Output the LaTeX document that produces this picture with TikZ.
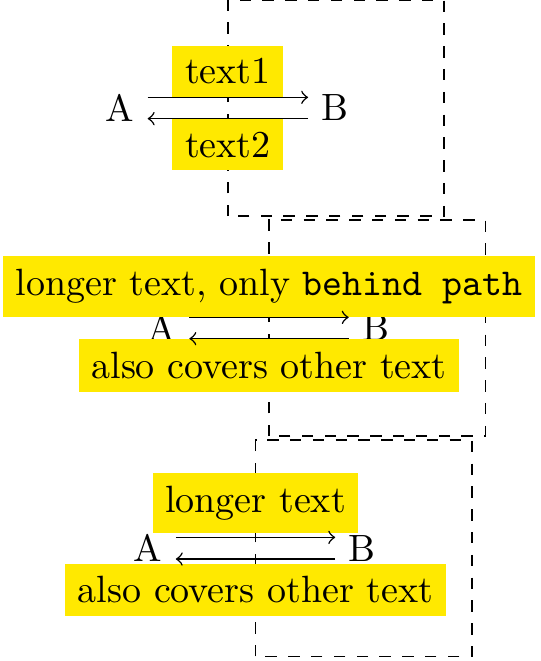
\documentclass[tikz,border=0pt]{standalone}
\usetikzlibrary{calc}
\definecolor{hl}{RGB}{255,233,0}
\begin{document}
\begin{tikzpicture}[x=0.26316pt,y=-0.26316pt,
  lbl/.style={fill=hl, behind path},
  ar/.style={->},
  frame/.style={dashed}]
\useasboundingbox (0,0) rectangle (540,661);
% top panel
\node (A1) at (120,108) {A};
\node (B1) at (335,108) {B};
\coordinate (M1) at ($(A1.east)!0.5!(B1.west)$);
\draw[frame] ([yshift=-1cm]M1) rectangle ([xshift=2cm,yshift=1cm]M1);
\draw[ar] ([yshift=2.8pt]A1.east) -- node[lbl,above] (t1) {text1} ([yshift=2.8pt]B1.west);
\draw[ar] ([yshift=-2.8pt]B1.west) -- node[lbl,below] (t2) {text2} ([yshift=-2.8pt]A1.east);
% middle panel
\node (A2) at (161.7,328) {A};
\node (B2) at (375.6,328) {B};
\coordinate (M2) at ($(A2.east)!0.5!(B2.west)$);
\draw[frame] ([yshift=-1cm]M2) rectangle ([xshift=2cm,yshift=1cm]M2);
\draw[ar] ([yshift=2.8pt]A2.east) -- node[lbl,above] (t3) {longer text, only \texttt{behind path}} ([yshift=2.8pt]B2.west);
\draw[ar] ([yshift=-2.8pt]B2.west) -- node[lbl,below] (t4) {also covers other text} ([yshift=-2.8pt]A2.east);
% bottom panel
\node (A3) at (148.1,548.2) {A};
\node (B3) at (362.1,548.2) {B};
\coordinate (M3) at ($(A3.east)!0.5!(B3.west)$);
\draw[frame] ([yshift=-1cm]M3) rectangle ([xshift=2cm,yshift=1cm]M3);
\draw[ar] ([yshift=2.85pt]A3.east) -- node[lbl,above=1pt] (t5) {longer text} ([yshift=2.85pt]B3.west);
\draw[ar] ([yshift=-2.85pt]B3.west) -- node[lbl,below=1pt] (t6) {also covers other text} ([yshift=-2.85pt]A3.east);
\end{tikzpicture}
\end{document}
